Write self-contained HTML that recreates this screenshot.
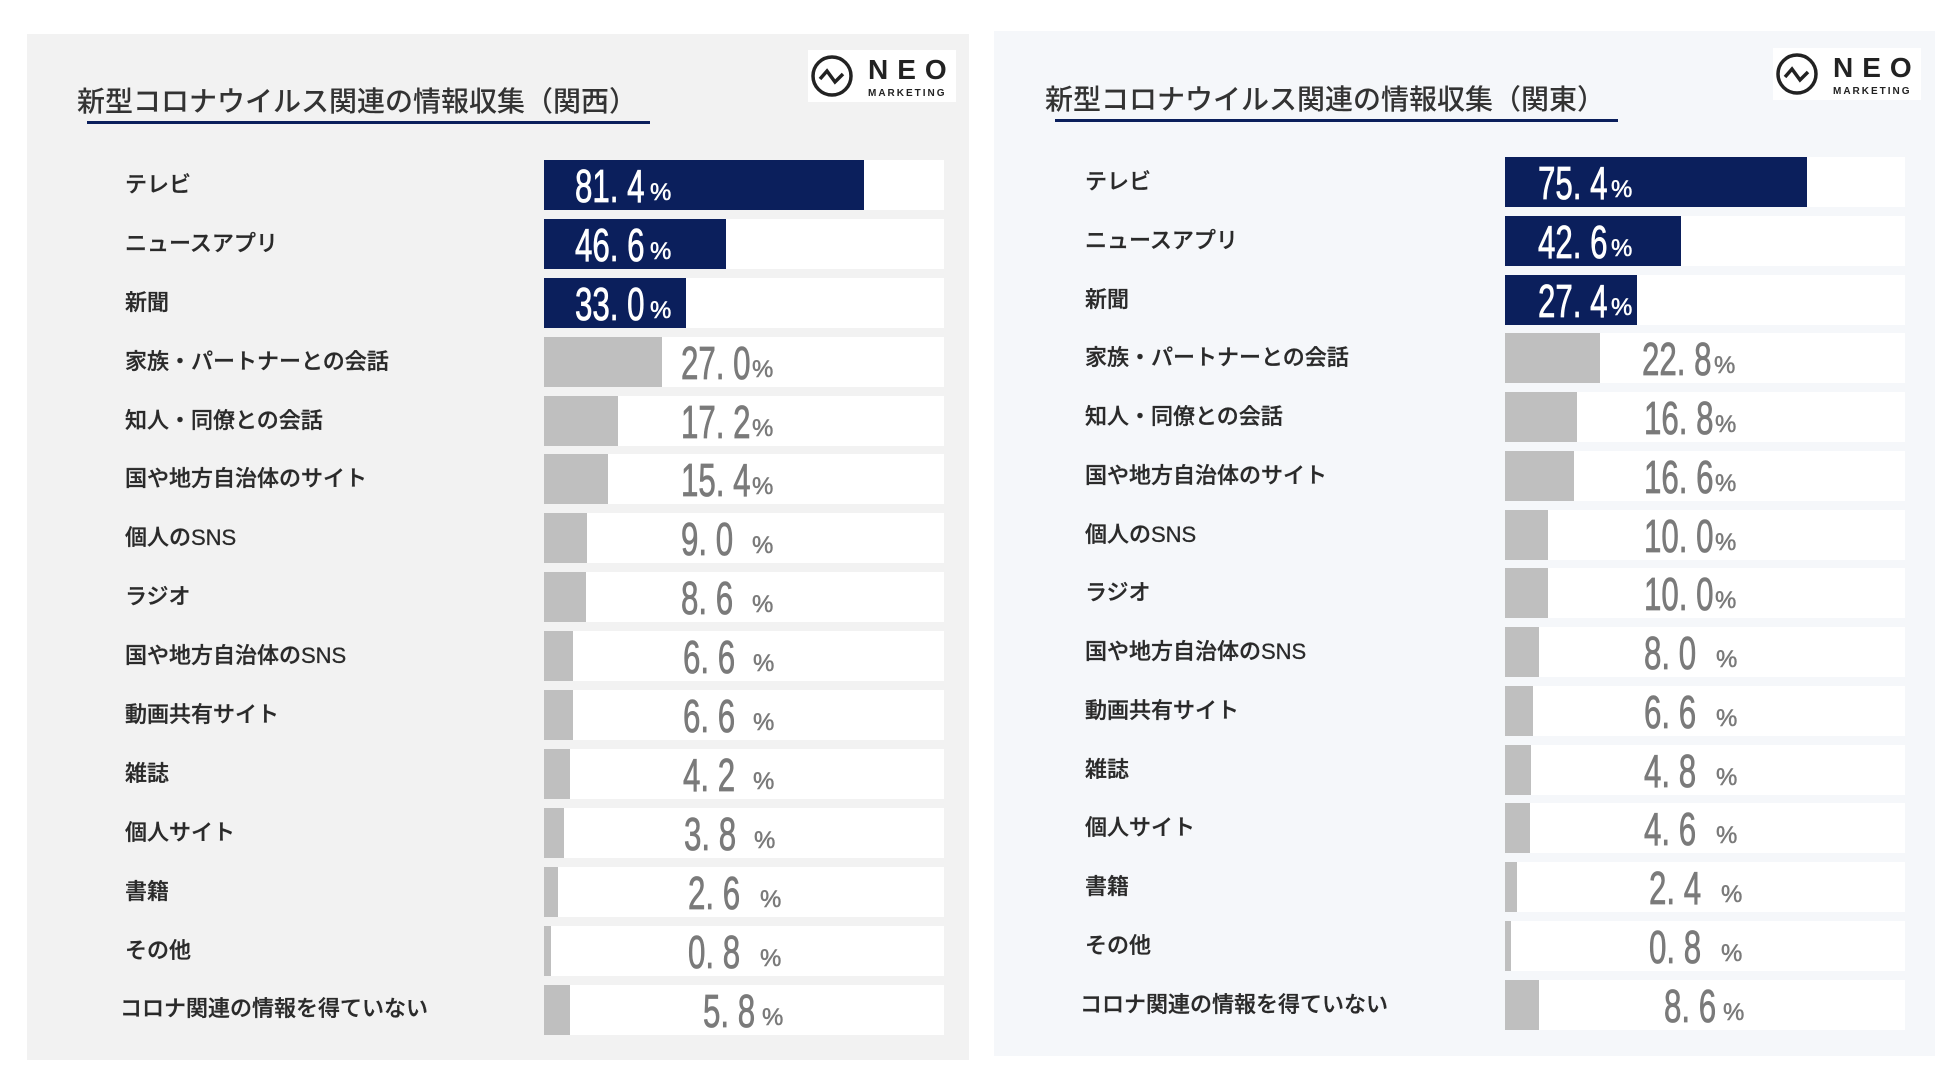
<!DOCTYPE html>
<html><head><meta charset="utf-8"><style>
body{margin:0;width:1952px;height:1077px;background:#fff;position:relative;overflow:hidden;font-family:"Liberation Sans","Noto Sans CJK JP",sans-serif}
.p{position:absolute}
.lab{position:absolute;font-size:22px;color:#2a2a2a;font-weight:500;line-height:30px;-webkit-text-stroke:0.3px #2a2a2a}
.bg{position:absolute;height:50px;width:400px;background:#fff}
.f{position:absolute;left:0;top:0;height:50px}
.n{position:absolute;font-size:46px;line-height:46px;transform:scaleX(0.68);transform-origin:left top;white-space:pre;color:#7a7a7a;-webkit-text-stroke:0.8px currentColor}
.pc{position:absolute;font-size:24px;line-height:24px;color:#7a7a7a;-webkit-text-stroke:0.5px currentColor}
.w{color:#fff}
.t{position:absolute;font-size:28px;color:#333;font-weight:500}
.logo{position:absolute;width:148px;height:52px;background:#fff}
.R{left:-6px}
</style></head><body>
<div class="p" style="left:27px;top:34px;width:942px;height:1026px;background:#f2f2f2"></div>
<div class="p" style="left:994px;top:31px;width:941px;height:1025px;background:#f5f7fa"></div>

<div class="t" style="left:77px;top:80px">新型コロナウイルス関連の情報収集（関西）</div>
<div class="p" style="left:87px;top:121px;width:563px;height:3px;background:#0b1f5c"></div>
<div class="t" style="left:1045px;top:78px">新型コロナウイルス関連の情報収集（関東）</div>
<div class="p" style="left:1055px;top:119px;width:563px;height:3px;background:#0b1f5c"></div>

<div class="logo" style="left:808px;top:50px"><svg width="148" height="52"><circle cx="24" cy="26" r="19" fill="none" stroke="#222" stroke-width="3.5"/><polyline points="12,29 19,21 27,32 35,24" fill="none" stroke="#222" stroke-width="3.5"/><text x="60" y="29" font-family="Liberation Sans" font-weight="bold" font-size="28" fill="#222" letter-spacing="9">NEO</text><text x="60" y="46" font-family="Liberation Sans" font-weight="bold" font-size="10" fill="#222" letter-spacing="2">MARKETING</text></svg></div>
<div class="logo" style="left:1773px;top:48px"><svg width="148" height="52"><circle cx="24" cy="26" r="19" fill="none" stroke="#222" stroke-width="3.5"/><polyline points="12,29 19,21 27,32 35,24" fill="none" stroke="#222" stroke-width="3.5"/><text x="60" y="29" font-family="Liberation Sans" font-weight="bold" font-size="28" fill="#222" letter-spacing="9">NEO</text><text x="60" y="46" font-family="Liberation Sans" font-weight="bold" font-size="10" fill="#222" letter-spacing="2">MARKETING</text></svg></div>

<!-- LEFT -->
<div class="lab" style="left:125px;top:170px">テレビ</div>
<div class="bg" style="left:544px;top:160px"><div class="f" style="width:320px;background:#0b1f5c"></div></div>
<div class="n w" style="left:575px;top:163px">81. 4</div><div class="pc w" style="left:650px;top:181px">%</div>

<div class="lab" style="left:125px;top:229px">ニュースアプリ</div>
<div class="bg" style="left:544px;top:219px"><div class="f" style="width:182px;background:#0b1f5c"></div></div>
<div class="n w" style="left:575px;top:222px">46. 6</div><div class="pc w" style="left:650px;top:240px">%</div>

<div class="lab" style="left:125px;top:288px">新聞</div>
<div class="bg" style="left:544px;top:278px"><div class="f" style="width:142px;background:#0b1f5c"></div></div>
<div class="n w" style="left:575px;top:281px">33. 0</div><div class="pc w" style="left:650px;top:299px">%</div>

<div class="lab" style="left:125px;top:347px">家族・パートナーとの会話</div>
<div class="bg" style="left:544px;top:337px"><div class="f" style="width:118px;background:#bfbfbf"></div></div>
<div class="n" style="left:681px;top:340px">27. 0</div><div class="pc" style="left:752px;top:358px">%</div>

<div class="lab" style="left:125px;top:406px">知人・同僚との会話</div>
<div class="bg" style="left:544px;top:396px"><div class="f" style="width:74px;background:#bfbfbf"></div></div>
<div class="n" style="left:681px;top:399px">17. 2</div><div class="pc" style="left:752px;top:417px">%</div>

<div class="lab" style="left:125px;top:464px">国や地方自治体のサイト</div>
<div class="bg" style="left:544px;top:454px"><div class="f" style="width:64px;background:#bfbfbf"></div></div>
<div class="n" style="left:681px;top:457px">15. 4</div><div class="pc" style="left:752px;top:475px">%</div>

<div class="lab" style="left:125px;top:523px">個人のSNS</div>
<div class="bg" style="left:544px;top:513px"><div class="f" style="width:43px;background:#bfbfbf"></div></div>
<div class="n" style="left:681px;top:516px">9. 0</div><div class="pc" style="left:752px;top:534px">%</div>

<div class="lab" style="left:125px;top:582px">ラジオ</div>
<div class="bg" style="left:544px;top:572px"><div class="f" style="width:42px;background:#bfbfbf"></div></div>
<div class="n" style="left:681px;top:575px">8. 6</div><div class="pc" style="left:752px;top:593px">%</div>

<div class="lab" style="left:125px;top:641px">国や地方自治体のSNS</div>
<div class="bg" style="left:544px;top:631px"><div class="f" style="width:29px;background:#bfbfbf"></div></div>
<div class="n" style="left:683px;top:634px">6. 6</div><div class="pc" style="left:753px;top:652px">%</div>

<div class="lab" style="left:125px;top:700px">動画共有サイト</div>
<div class="bg" style="left:544px;top:690px"><div class="f" style="width:29px;background:#bfbfbf"></div></div>
<div class="n" style="left:683px;top:693px">6. 6</div><div class="pc" style="left:753px;top:711px">%</div>

<div class="lab" style="left:125px;top:759px">雑誌</div>
<div class="bg" style="left:544px;top:749px"><div class="f" style="width:26px;background:#bfbfbf"></div></div>
<div class="n" style="left:683px;top:752px">4. 2</div><div class="pc" style="left:753px;top:770px">%</div>

<div class="lab" style="left:125px;top:818px">個人サイト</div>
<div class="bg" style="left:544px;top:808px"><div class="f" style="width:20px;background:#bfbfbf"></div></div>
<div class="n" style="left:684px;top:811px">3. 8</div><div class="pc" style="left:754px;top:829px">%</div>

<div class="lab" style="left:125px;top:877px">書籍</div>
<div class="bg" style="left:544px;top:867px"><div class="f" style="width:14px;background:#bfbfbf"></div></div>
<div class="n" style="left:688px;top:870px">2. 6</div><div class="pc" style="left:760px;top:888px">%</div>

<div class="lab" style="left:125px;top:936px">その他</div>
<div class="bg" style="left:544px;top:926px"><div class="f" style="width:7px;background:#bfbfbf"></div></div>
<div class="n" style="left:688px;top:929px">0. 8</div><div class="pc" style="left:760px;top:947px">%</div>

<div class="lab" style="left:120px;top:994px">コロナ関連の情報を得ていない</div>
<div class="bg" style="left:544px;top:985px"><div class="f" style="width:26px;background:#bfbfbf"></div></div>
<div class="n" style="left:703px;top:988px">5. 8</div><div class="pc" style="left:762px;top:1006px">%</div>

<!-- RIGHT -->
<div class="p" style="left:-6px;top:0;width:1952px;height:1077px">
<div class="lab" style="left:1091px;top:167px">テレビ</div>
<div class="bg" style="left:1511px;top:157px"><div class="f" style="width:302px;background:#0b1f5c"></div></div>
<div class="n w" style="left:1544px;top:160px">75. 4</div><div class="pc w" style="left:1617px;top:178px">%</div>

<div class="lab" style="left:1091px;top:226px">ニュースアプリ</div>
<div class="bg" style="left:1511px;top:216px"><div class="f" style="width:176px;background:#0b1f5c"></div></div>
<div class="n w" style="left:1544px;top:219px">42. 6</div><div class="pc w" style="left:1617px;top:237px">%</div>

<div class="lab" style="left:1091px;top:285px">新聞</div>
<div class="bg" style="left:1511px;top:275px"><div class="f" style="width:132px;background:#0b1f5c"></div></div>
<div class="n w" style="left:1544px;top:278px">27. 4</div><div class="pc w" style="left:1617px;top:296px">%</div>

<div class="lab" style="left:1091px;top:343px">家族・パートナーとの会話</div>
<div class="bg" style="left:1511px;top:333px"><div class="f" style="width:95px;background:#bfbfbf"></div></div>
<div class="n" style="left:1648px;top:336px">22. 8</div><div class="pc" style="left:1720px;top:354px">%</div>

<div class="lab" style="left:1091px;top:402px">知人・同僚との会話</div>
<div class="bg" style="left:1511px;top:392px"><div class="f" style="width:72px;background:#bfbfbf"></div></div>
<div class="n" style="left:1650px;top:395px">16. 8</div><div class="pc" style="left:1721px;top:413px">%</div>

<div class="lab" style="left:1091px;top:461px">国や地方自治体のサイト</div>
<div class="bg" style="left:1511px;top:451px"><div class="f" style="width:69px;background:#bfbfbf"></div></div>
<div class="n" style="left:1650px;top:454px">16. 6</div><div class="pc" style="left:1721px;top:472px">%</div>

<div class="lab" style="left:1091px;top:520px">個人のSNS</div>
<div class="bg" style="left:1511px;top:510px"><div class="f" style="width:43px;background:#bfbfbf"></div></div>
<div class="n" style="left:1650px;top:513px">10. 0</div><div class="pc" style="left:1721px;top:531px">%</div>

<div class="lab" style="left:1091px;top:578px">ラジオ</div>
<div class="bg" style="left:1511px;top:568px"><div class="f" style="width:43px;background:#bfbfbf"></div></div>
<div class="n" style="left:1650px;top:571px">10. 0</div><div class="pc" style="left:1721px;top:589px">%</div>

<div class="lab" style="left:1091px;top:637px">国や地方自治体のSNS</div>
<div class="bg" style="left:1511px;top:627px"><div class="f" style="width:34px;background:#bfbfbf"></div></div>
<div class="n" style="left:1650px;top:630px">8. 0</div><div class="pc" style="left:1722px;top:648px">%</div>

<div class="lab" style="left:1091px;top:696px">動画共有サイト</div>
<div class="bg" style="left:1511px;top:686px"><div class="f" style="width:28px;background:#bfbfbf"></div></div>
<div class="n" style="left:1650px;top:689px">6. 6</div><div class="pc" style="left:1722px;top:707px">%</div>

<div class="lab" style="left:1091px;top:755px">雑誌</div>
<div class="bg" style="left:1511px;top:745px"><div class="f" style="width:26px;background:#bfbfbf"></div></div>
<div class="n" style="left:1650px;top:748px">4. 8</div><div class="pc" style="left:1722px;top:766px">%</div>

<div class="lab" style="left:1091px;top:813px">個人サイト</div>
<div class="bg" style="left:1511px;top:803px"><div class="f" style="width:25px;background:#bfbfbf"></div></div>
<div class="n" style="left:1650px;top:806px">4. 6</div><div class="pc" style="left:1722px;top:824px">%</div>

<div class="lab" style="left:1091px;top:872px">書籍</div>
<div class="bg" style="left:1511px;top:862px"><div class="f" style="width:12px;background:#bfbfbf"></div></div>
<div class="n" style="left:1655px;top:865px">2. 4</div><div class="pc" style="left:1727px;top:883px">%</div>

<div class="lab" style="left:1091px;top:931px">その他</div>
<div class="bg" style="left:1511px;top:921px"><div class="f" style="width:6px;background:#bfbfbf"></div></div>
<div class="n" style="left:1655px;top:924px">0. 8</div><div class="pc" style="left:1727px;top:942px">%</div>

<div class="lab" style="left:1086px;top:990px">コロナ関連の情報を得ていない</div>
<div class="bg" style="left:1511px;top:980px"><div class="f" style="width:34px;background:#bfbfbf"></div></div>
<div class="n" style="left:1670px;top:983px">8. 6</div><div class="pc" style="left:1729px;top:1001px">%</div>
</div>
</body></html>
